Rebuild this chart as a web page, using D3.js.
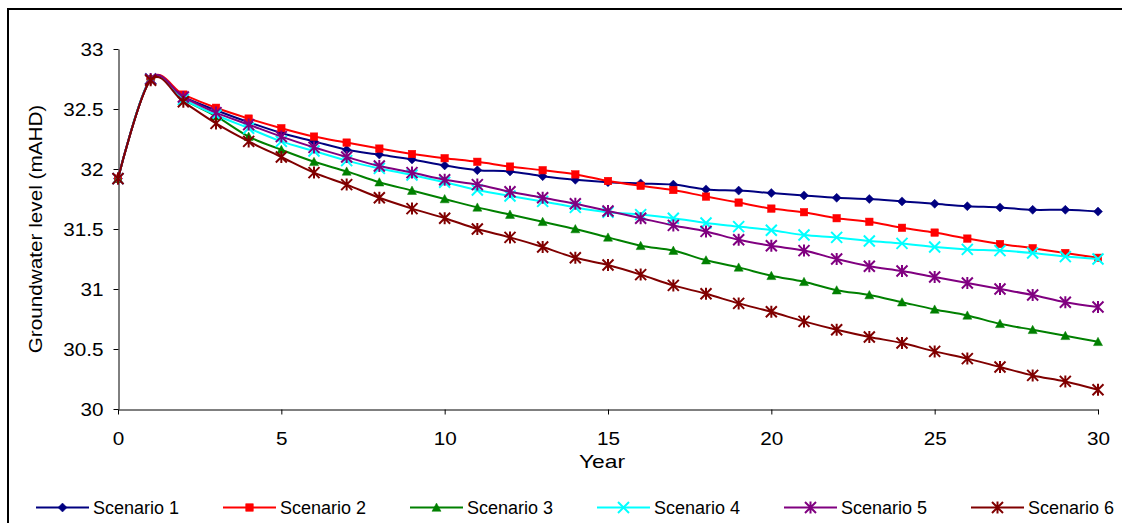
<!DOCTYPE html>
<html>
<head>
<meta charset="utf-8">
<script src="https://cdn.jsdelivr.net/npm/d3@7"></script>
<style>
  html, body { margin: 0; padding: 0; background: #fff; }
  svg { display: block; font-family: "Liberation Sans", Arial, sans-serif; }
</style>
</head>
<body>
<svg id="chart" width="1122" height="523"></svg>
<script>
// ---------------- DATA ----------------
const years = d3.range(0, 31);
const seriesNames = ["Scenario 1", "Scenario 2", "Scenario 3", "Scenario 4", "Scenario 5", "Scenario 6"];
const scenario1 = [31.92, 32.75, 32.60, 32.49, 32.39, 32.30, 32.23, 32.16, 32.12, 32.08, 32.03, 31.99, 31.98, 31.94, 31.91, 31.89, 31.88, 31.87, 31.83, 31.82, 31.80, 31.78, 31.76, 31.75, 31.73, 31.71, 31.69, 31.68, 31.66, 31.66, 31.645];
const scenario2 = [31.92, 32.75, 32.62, 32.51, 32.42, 32.34, 32.27, 32.22, 32.17, 32.125, 32.09, 32.06, 32.02, 31.99, 31.955, 31.90, 31.86, 31.825, 31.77, 31.72, 31.67, 31.64, 31.59, 31.56, 31.51, 31.47, 31.42, 31.375, 31.34, 31.30, 31.26];
const scenario3 = [31.92, 32.75, 32.58, 32.44, 32.27, 32.16, 32.06, 31.98, 31.89, 31.82, 31.75, 31.68, 31.62, 31.56, 31.50, 31.43, 31.36, 31.32, 31.24, 31.18, 31.11, 31.06, 30.99, 30.95, 30.89, 30.83, 30.78, 30.71, 30.66, 30.61, 30.56];
const scenario4 = [31.92, 32.75, 32.58, 32.45, 32.34, 32.23, 32.15, 32.07, 32.005, 31.95, 31.89, 31.825, 31.775, 31.73, 31.68, 31.64, 31.62, 31.59, 31.55, 31.52, 31.49, 31.45, 31.43, 31.40, 31.38, 31.35, 31.33, 31.32, 31.30, 31.27, 31.25];
const scenario5 = [31.92, 32.75, 32.60, 32.47, 32.37, 32.27, 32.18, 32.10, 32.025, 31.97, 31.91, 31.87, 31.81, 31.76, 31.71, 31.65, 31.59, 31.53, 31.48, 31.41, 31.36, 31.32, 31.25, 31.19, 31.15, 31.10, 31.05, 31.00, 30.95, 30.89, 30.85];
const scenario6 = [31.92, 32.74, 32.56, 32.38, 32.23, 32.10, 31.97, 31.87, 31.76, 31.67, 31.59, 31.50, 31.43, 31.35, 31.26, 31.20, 31.12, 31.03, 30.96, 30.88, 30.81, 30.73, 30.66, 30.60, 30.55, 30.48, 30.42, 30.35, 30.28, 30.23, 30.16];
const xTicks = [0, 5, 10, 15, 20, 25, 30];
const yTicks = [30, 30.5, 31, 31.5, 32, 32.5, 33];
const xTitle = "Year";
const yTitle = "Groundwater level (mAHD)";

// ---------------- STYLE ----------------
const allSeries = [scenario1, scenario2, scenario3, scenario4, scenario5, scenario6];
const colors = ["#000080", "#FF0000", "#008000", "#00FFFF", "#800080", "#800000"];
const shapes = ["diamond", "square", "triangle", "x", "asterisk", "asterisk"];
const FONT = "'Liberation Sans', Arial, sans-serif";
const STRETCH = 1.15; // reference axis text is horizontally widened

const svg = d3.select("#chart");

function widen(sel, factor) {
  sel.each(function () {
    const w = this.getComputedTextLength();
    d3.select(this).attr("textLength", w * factor).attr("lengthAdjust", "spacingAndGlyphs");
  });
}

// outer frame
svg.append("rect")
  .attr("x", 8).attr("y", 9)
  .attr("width", 1140).attr("height", 600)
  .attr("fill", "none").attr("stroke", "#000").attr("stroke-width", 2);

const x = d3.scaleLinear().domain([0, 30]).range([118, 1098]);
const y = d3.scaleLinear().domain([30, 33]).range([409, 49]);

// axes
const xAxis = d3.axisBottom(x).tickValues(xTicks).tickSize(5).tickSizeOuter(0).tickPadding(18);
const yAxis = d3.axisLeft(y).tickValues(yTicks).tickSize(5).tickSizeOuter(0).tickPadding(10)
  .tickFormat(d => String(d));

const gx = svg.append("g").attr("transform", "translate(0,409.5)").call(xAxis);
const gy = svg.append("g").attr("transform", "translate(118.5,0)").call(yAxis);
[gx, gy].forEach(g => {
  g.select(".domain").attr("stroke", "#000").attr("stroke-width", 1);
  g.selectAll(".tick line").attr("stroke", "#000").attr("stroke-width", 1);
  g.selectAll(".tick text").attr("fill", "#000").attr("font-size", 18).attr("font-family", FONT);
  widen(g.selectAll(".tick text"), STRETCH);
});
gy.selectAll(".tick text").attr("dy", "0.35em");

// axis titles
const xt = svg.append("text")
  .attr("x", x(15) - 6).attr("y", 468)
  .attr("text-anchor", "middle").attr("font-size", 19).attr("fill", "#000").attr("font-family", FONT)
  .text(xTitle);
widen(xt, 1.2);
const yt = svg.append("text")
  .attr("transform", `translate(42, ${y(31.5)}) rotate(-90)`)
  .attr("text-anchor", "middle").attr("font-size", 18).attr("fill", "#000").attr("font-family", FONT)
  .text(yTitle);
widen(yt, STRETCH);

// marker drawing
function drawMarker(g, shape, color, cx, cy) {
  if (shape === "diamond") {
    g.append("path").attr("d", `M${cx},${cy-4.5}L${cx+4.5},${cy}L${cx},${cy+4.5}L${cx-4.5},${cy}Z`)
      .attr("fill", color).attr("stroke", color).attr("stroke-width", 0.5);
  } else if (shape === "square") {
    g.append("rect").attr("x", cx-3.75).attr("y", cy-3.75).attr("width", 7.5).attr("height", 7.5)
      .attr("fill", color).attr("stroke", color).attr("stroke-width", 0.5);
  } else if (shape === "triangle") {
    g.append("path").attr("d", `M${cx},${cy-4.5}L${cx+4.5},${cy+3.8}L${cx-4.5},${cy+3.8}Z`)
      .attr("fill", color).attr("stroke", color).attr("stroke-width", 0.5);
  } else if (shape === "x") {
    const r = 5.5;
    g.append("path").attr("d", `M${cx-r},${cy-r}L${cx+r},${cy+r}M${cx-r},${cy+r}L${cx+r},${cy-r}`)
      .attr("stroke", color).attr("stroke-width", 2).attr("fill", "none");
  } else if (shape === "asterisk") {
    const r = 5.5;
    g.append("path").attr("d", `M${cx-r},${cy-r}L${cx+r},${cy+r}M${cx-r},${cy+r}L${cx+r},${cy-r}M${cx},${cy-r-0.5}L${cx},${cy+r+0.5}`)
      .attr("stroke", color).attr("stroke-width", 2).attr("fill", "none");
  }
}

// series
const line = d3.line()
  .x((d, i) => x(years[i]))
  .y(d => y(d))
  .curve(d3.curveCardinal.tension(0));

allSeries.forEach((vals, si) => {
  const g = svg.append("g");
  g.append("path").datum(vals)
    .attr("d", line)
    .attr("fill", "none").attr("stroke", colors[si]).attr("stroke-width", 2);
  vals.forEach((v, i) => drawMarker(g, shapes[si], colors[si], x(years[i]), y(v)));
});

// legend
const legendX = d3.scaleLinear().domain([0, 5]).range([36, 971]);
seriesNames.forEach((name, i) => {
  const lx = legendX(i);
  const g = svg.append("g");
  g.append("line").attr("x1", lx).attr("x2", lx + 53).attr("y1", 507.5).attr("y2", 507.5)
    .attr("stroke", colors[i]).attr("stroke-width", 2);
  drawMarker(g, shapes[i], colors[i], lx + 26.5, 507.5);
  g.append("text").attr("x", lx + 57).attr("y", 513.5).attr("font-family", FONT)
    .attr("font-size", 18).attr("fill", "#000").text(name);
});
</script>
</body>
</html>
